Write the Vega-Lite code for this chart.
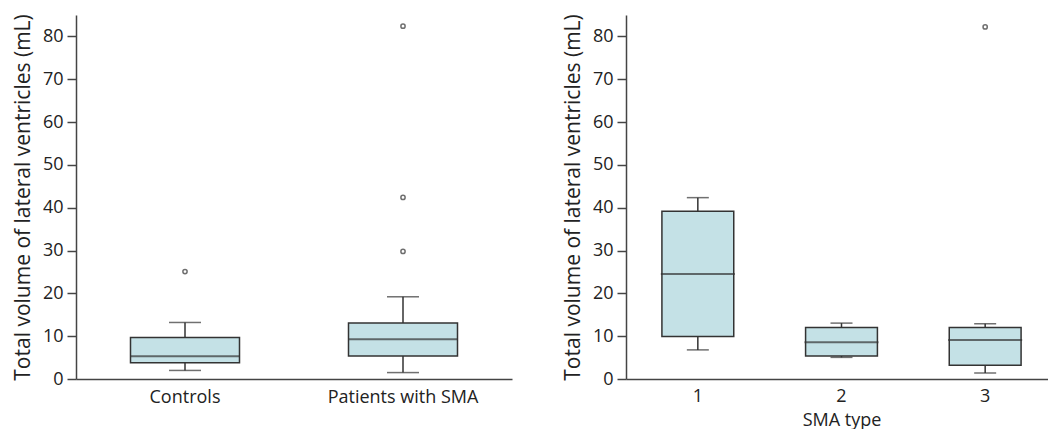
{
  "$schema": "https://vega.github.io/schema/vega-lite/v6.json",
  "padding": {"left": 12, "top": 13, "right": 0, "bottom": 0},
  "background": "white",
  "spacing": 50,
  "config": {
    "font": "Open Sans",
    "view": {"stroke": null},
    "axis": {
      "domainColor": "#444",
      "domainWidth": 1.5,
      "tickColor": "#444",
      "tickWidth": 1.5,
      "labelColor": "#222",
      "titleColor": "#222",
      "labelFontSize": 18,
      "titleFontSize": 21,
      "titleFontWeight": "normal",
      "grid": false
    }
  },
  "datasets": {
    "groups": [
      {"group": "Controls", "min": 2.0, "q1": 3.8, "median": 5.3, "q3": 9.7, "max": 13.2},
      {"group": "Patients with SMA", "min": 1.5, "q1": 5.4, "median": 9.3, "q3": 13.05, "max": 19.2}
    ],
    "groupOutliers": [
      {"group": "Controls", "value": 25.1},
      {"group": "Patients with SMA", "value": 82.4},
      {"group": "Patients with SMA", "value": 42.4},
      {"group": "Patients with SMA", "value": 29.8}
    ],
    "types": [
      {"type": "1", "min": 6.8, "q1": 9.9, "median": 24.5, "q3": 39.2, "max": 42.35},
      {"type": "2", "min": 5.05, "q1": 5.4, "median": 8.6, "q3": 12.05, "max": 13.05},
      {"type": "3", "min": 1.4, "q1": 3.2, "median": 9.1, "q3": 12.05, "max": 12.9}
    ],
    "typeOutliers": [
      {"type": "3", "value": 82.2}
    ]
  },
  "hconcat": [
    {
      "width": 436,
      "height": 364,
      "encoding": {
        "x": {
          "field": "group", "type": "nominal", "sort": null,
          "scale": {"paddingInner": 0, "paddingOuter": 0},
          "axis": {"title": null, "labelAngle": 0, "ticks": false, "labelPadding": 9}
        }
      },
      "layer": [
        {
          "data": {"name": "groups"},
          "mark": {"type": "rule", "color": "#333", "strokeWidth": 1.5},
          "encoding": {
            "y": {"field": "min", "type": "quantitative", "scale": {"domain": [0, 85], "nice": false},
              "axis": {"title": "Total volume of lateral ventricles (mL)", "values": [0,10,20,30,40,50,60,70,80], "tickSize": 9, "labelPadding": 4, "titlePadding": 9}},
            "y2": {"field": "max"}
          }
        },
        {
          "data": {"name": "groups"},
          "mark": {"type": "tick", "color": "#333", "size": 32, "thickness": 1.5},
          "encoding": {"y": {"field": "min", "type": "quantitative"}}
        },
        {
          "data": {"name": "groups"},
          "mark": {"type": "tick", "color": "#333", "size": 32, "thickness": 1.5},
          "encoding": {"y": {"field": "max", "type": "quantitative"}}
        },
        {
          "data": {"name": "groups"},
          "mark": {"type": "bar", "width": {"band": 0.5}, "fill": "#c4e1e6", "stroke": "#333", "strokeWidth": 1.5},
          "encoding": {"y": {"field": "q1", "type": "quantitative"}, "y2": {"field": "q3"}}
        },
        {
          "data": {"name": "groups"},
          "mark": {"type": "tick", "color": "#333", "size": 109, "thickness": 2},
          "encoding": {"y": {"field": "median", "type": "quantitative"}}
        },
        {
          "data": {"name": "groupOutliers"},
          "mark": {"type": "point", "shape": "circle", "filled": false, "color": "#333", "size": 18, "strokeWidth": 1.5},
          "encoding": {"y": {"field": "value", "type": "quantitative"}}
        }
      ]
    },
    {
      "width": 431,
      "height": 364,
      "encoding": {
        "x": {
          "field": "type", "type": "nominal", "sort": null,
          "scale": {"paddingInner": 0, "paddingOuter": 0},
          "axis": {"title": "SMA type", "titleFontSize": 18, "titlePadding": 6, "labelAngle": 0, "ticks": false, "labelPadding": 8}
        }
      },
      "layer": [
        {
          "data": {"name": "types"},
          "mark": {"type": "rule", "color": "#333", "strokeWidth": 1.5},
          "encoding": {
            "y": {"field": "min", "type": "quantitative", "scale": {"domain": [0, 85], "nice": false},
              "axis": {"title": "Total volume of lateral ventricles (mL)", "values": [0,10,20,30,40,50,60,70,80], "tickSize": 9, "labelPadding": 4, "titlePadding": 9}},
            "y2": {"field": "max"}
          }
        },
        {
          "data": {"name": "types"},
          "mark": {"type": "tick", "color": "#333", "size": 22, "thickness": 1.5},
          "encoding": {"y": {"field": "min", "type": "quantitative"}}
        },
        {
          "data": {"name": "types"},
          "mark": {"type": "tick", "color": "#333", "size": 22, "thickness": 1.5},
          "encoding": {"y": {"field": "max", "type": "quantitative"}}
        },
        {
          "data": {"name": "types"},
          "mark": {"type": "bar", "width": {"band": 0.5}, "fill": "#c4e1e6", "stroke": "#333", "strokeWidth": 1.5},
          "encoding": {"y": {"field": "q1", "type": "quantitative"}, "y2": {"field": "q3"}}
        },
        {
          "data": {"name": "types"},
          "mark": {"type": "tick", "color": "#333", "size": 74, "thickness": 2},
          "encoding": {"y": {"field": "median", "type": "quantitative"}}
        },
        {
          "data": {"name": "typeOutliers"},
          "mark": {"type": "point", "shape": "circle", "filled": false, "color": "#333", "size": 18, "strokeWidth": 1.5},
          "encoding": {"y": {"field": "value", "type": "quantitative"}}
        }
      ]
    }
  ]
}
